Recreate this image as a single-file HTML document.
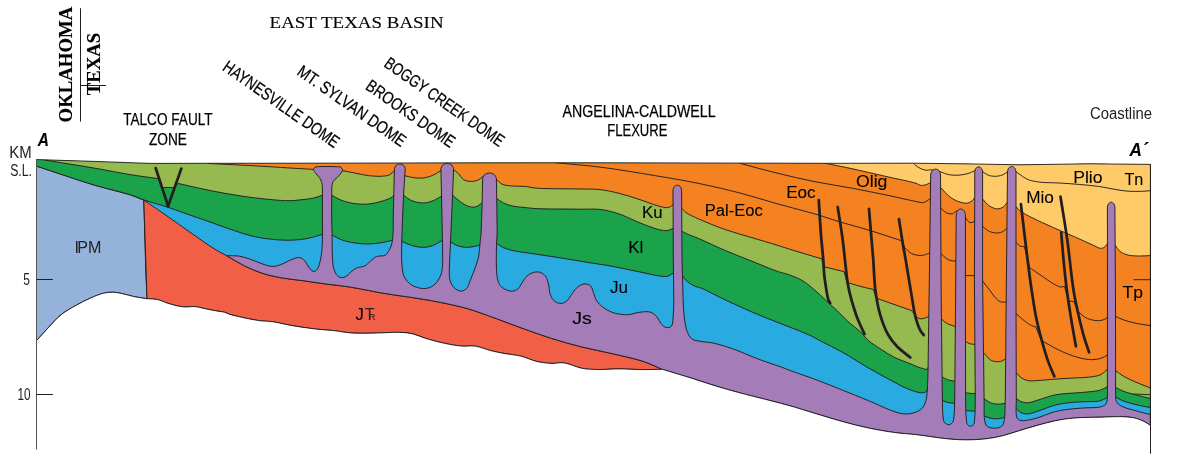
<!DOCTYPE html>
<html><head><meta charset="utf-8"><title>East Texas Basin cross-section A-A'</title>
<style>
html,body{margin:0;padding:0;background:#fff}
svg{display:block}
text.s{font-family:"Liberation Sans",Arial,Helvetica,sans-serif;fill:#000;stroke:#000;stroke-width:0.1px}
text.c{font-family:"Liberation Sans",Arial,Helvetica,sans-serif;fill:#000;stroke:#000;stroke-width:0.25px}
text.l{font-family:"Liberation Sans",Arial,Helvetica,sans-serif;fill:#222}
text.r{font-family:"Liberation Serif","Times New Roman",Times,serif;fill:#000;stroke:#000;stroke-width:0.12px}
</style></head><body>
<svg width="1188" height="459" viewBox="0 0 1188 459">
<defs><clipPath id="sec"><path d="M36.5,159.6L94.3,161.4L150,163.4L207.6,163.3L300,163.2L400,163L555,162.8L700,163L830,163.3L915,163.2L975,164L1020,164.8L1090,163.8L1150.4,164.4L1150.4,425.3C1148.1,423.9 1146,422.4 1143.5,421.2C1140.8,419.9 1137.9,418.7 1134.7,418C1131.1,417.2 1127.5,416.9 1122.9,416.7C1116.5,416.4 1107.9,417 1100,417.2C1091.6,417.4 1082,417.3 1074.1,418C1067.4,418.6 1061.7,419.5 1055.6,420.7C1049.4,421.9 1043.2,423.7 1037,425.4C1030.8,427.1 1024.4,429.1 1018.5,430.9C1013.2,432.5 1008.3,434.3 1003.2,435.6C998.3,436.8 993.4,437.8 988.5,438.5C983.6,439.2 978.7,439.5 973.8,439.7C968.9,439.9 964,439.9 959.1,439.7C954.2,439.5 949.3,439 944.4,438.5C939.5,438 934.6,437.2 929.7,436.5C924.8,435.8 920.3,435.1 915,434.5C908.8,433.8 901.8,433.5 894.6,432.5C886.4,431.4 877.1,429.8 868.4,428C859.7,426.2 851,423.9 842.3,421.5C833.5,419.1 824.8,416.3 816.1,413.7C807.4,411.1 798.1,408.1 790,405.8C783.1,403.8 777.6,402.5 770.7,400.7C762.7,398.6 753.3,396.4 744.6,394.1C735.9,391.8 727.1,389.4 718.4,386.8C709.7,384.2 701.3,381.2 692.3,378.4C682.6,375.4 672.2,372.3 662.2,369.3L662.2,369.3C655.8,369.4 649.8,369.6 643,369.6C635.4,369.6 626.5,368.9 618.6,368.9C611.2,368.9 603.7,369.7 597.2,369.5C591.7,369.4 587.2,369.3 582,368.3C576.1,367.2 569.2,363.5 563.7,362.8C559.3,362.3 555.8,363.6 551.5,363.4C546.7,363.2 541.2,362.5 536.2,361.3C531.1,360.1 526.1,357.4 521,356.1C516,354.9 510.8,354.6 505.7,353.7C500.6,352.8 495.5,351.9 490.5,350.6C485.4,349.3 480.2,346.8 475.2,346.1C470.6,345.4 466.6,346.5 461.8,346.1C456.2,345.6 449.6,344.4 443.5,343.1C437.4,341.8 430.7,339.9 425.2,338.2C420.7,336.8 417.1,334.9 413,333.9C409,333 405.6,332.6 400.8,332.4C394.1,332.1 384.5,332.9 376.4,333C368.3,333.1 359.5,333.5 352,333C345.4,332.6 339.8,331.3 333.7,330.6C327.6,329.9 321.9,329.8 315.4,329C307.8,328.1 298.5,326.7 291,325.4C284.4,324.3 278.2,322.5 272.7,321.7C268.2,321.1 264.6,321.3 260.5,320.8C256.4,320.3 252,319.4 248.3,318.7C245.1,318.1 242.3,317.4 239.3,316.7C236.2,316 232.7,315.3 230,314.4C227.9,313.7 226.5,312.8 224.4,312.2C221.7,311.5 218.4,311.3 215.2,310.7C211.7,310.1 207.6,309.2 204.1,308.5C200.9,307.8 197.9,306.7 194.8,306.5C191.7,306.3 188.5,307.1 185.6,307C183,306.9 180.8,306.6 178.1,306.1C174.7,305.4 170.5,304.1 167,303C163.8,302 161,300.3 157.8,299.6C154.4,298.8 150.6,299 147,298.7L147,298.7C142.6,298 137.9,297.4 133.7,296.5C129.8,295.7 126.2,294.4 122.6,293.7C119.4,293 116.4,292.3 113.3,292.2C110.2,292.1 107.4,292.4 104.1,293.1C100.1,294 95.5,295.9 91.1,297.8C86.3,299.9 81.2,302.5 76.3,305.2C71.3,308 66.1,310.8 61.5,314.4C56.8,318.1 52.7,323 48.5,327.4C44.4,331.8 40.5,336.3 36.5,340.7Z"/></clipPath></defs>
<g clip-path="url(#sec)">
<rect x="30" y="150" width="1130" height="300" fill="#29ABE2"/>
<path d="M36.4,166.1L94.3,185.1L130,194.7L143.8,200.1L145.7,270L147,298.7L147,298.7C142.6,298 137.9,297.4 133.7,296.5C129.8,295.7 126.2,294.4 122.6,293.7C119.4,293 116.4,292.3 113.3,292.2C110.2,292.1 107.4,292.4 104.1,293.1C100.1,294 95.5,295.9 91.1,297.8C86.3,299.9 81.2,302.5 76.3,305.2C71.3,308 66.1,310.8 61.5,314.4C56.8,318.1 52.7,323 48.5,327.4C44.4,331.8 40.5,336.3 36.5,340.7Z" fill="#95B3DA" stroke="#231F20" stroke-width="0.95"/>
<path d="M143.8,200.1C150,204.3 155.6,208.1 162.3,212.7C170.4,218.3 180.1,225.3 189,231.5C197.7,237.5 207.9,245 215,249.3C219.6,252.1 222.5,253.4 226.8,255.8C232.1,258.8 238.3,262.8 244.4,265.8C250.7,268.8 257.4,271.7 264,273.8C270.4,275.8 277,277 283.6,278.2C290.1,279.3 296.7,279.8 303.2,280.7C309.7,281.6 316.3,282.7 322.8,283.6C329.4,284.5 336.7,285.2 342.5,286C347.1,286.6 350,287 355,287.9C362.7,289.2 373.7,291.6 384.2,293.4C396.3,295.4 411.3,297.2 423.4,299.3C433.9,301.1 444.3,303.1 452.8,305C459.3,306.5 464.1,307.6 470,309.4C476.6,311.4 483,313.8 490.5,316.5C499.7,319.8 510.8,324.1 521,327.8C531.1,331.4 541.3,335.2 551.5,338.4C561.6,341.6 571.8,344.4 582,347C592.1,349.5 602.3,351.3 612.5,353.7C622.7,356.1 634.1,358.4 643,361.3C650.2,363.7 655.8,366.6 662.2,369.3L662.2,369.3C655.8,369.4 649.8,369.6 643,369.6C635.4,369.6 626.5,368.9 618.6,368.9C611.2,368.9 603.7,369.7 597.2,369.5C591.7,369.4 587.2,369.3 582,368.3C576.1,367.2 569.2,363.5 563.7,362.8C559.3,362.3 555.8,363.6 551.5,363.4C546.7,363.2 541.2,362.5 536.2,361.3C531.1,360.1 526.1,357.4 521,356.1C516,354.9 510.8,354.6 505.7,353.7C500.6,352.8 495.5,351.9 490.5,350.6C485.4,349.3 480.2,346.8 475.2,346.1C470.6,345.4 466.6,346.5 461.8,346.1C456.2,345.6 449.6,344.4 443.5,343.1C437.4,341.8 430.7,339.9 425.2,338.2C420.7,336.8 417.1,334.9 413,333.9C409,333 405.6,332.6 400.8,332.4C394.1,332.1 384.5,332.9 376.4,333C368.3,333.1 359.5,333.5 352,333C345.4,332.6 339.8,331.3 333.7,330.6C327.6,329.9 321.9,329.8 315.4,329C307.8,328.1 298.5,326.7 291,325.4C284.4,324.3 278.2,322.5 272.7,321.7C268.2,321.1 264.6,321.3 260.5,320.8C256.4,320.3 252,319.4 248.3,318.7C245.1,318.1 242.3,317.4 239.3,316.7C236.2,316 232.7,315.3 230,314.4C227.9,313.7 226.5,312.8 224.4,312.2C221.7,311.5 218.4,311.3 215.2,310.7C211.7,310.1 207.6,309.2 204.1,308.5C200.9,307.8 197.9,306.7 194.8,306.5C191.7,306.3 188.5,307.1 185.6,307C183,306.9 180.8,306.6 178.1,306.1C174.7,305.4 170.5,304.1 167,303C163.8,302 161,300.3 157.8,299.6C154.4,298.8 150.6,299 147,298.7Z" fill="#F15F46" stroke="#231F20" stroke-width="0.95" stroke-linejoin="round"/>
<path d="M20,160.7C25.5,162.5 29.3,163.8 36.4,166.1C49.8,170.5 77.3,180 94.3,185.1C107.6,189.1 120.8,191.7 130,194.7C135.9,196.6 139,198.3 144.4,200.1C151.3,202.4 160.4,204.8 168.1,207.3C175.5,209.7 182.4,212.4 189.9,215C198,217.8 207.2,221 215,223.8C221.9,226.2 228,228.6 234.6,230.7C241.1,232.8 247.6,235.1 254.2,236.6C260.7,238 267.2,238.9 273.8,239.5C280.3,240.1 287.4,240.4 293.4,240.1C298.4,239.9 302.6,239.4 307.2,238.5C312.1,237.6 317,235.9 321.9,234.6L332,235C335.2,236.6 338,238.5 341.5,239.8C345.5,241.3 350.5,242.3 355,243C359.4,243.7 363.9,244.1 368.4,244C373,243.9 378,243.2 382.2,242.5C385.9,241.9 389.1,241.1 392.5,240.4L401.9,241.5C405.2,242.8 408.2,244.4 411.7,245.4C415.4,246.4 419.7,247.5 423.4,247.4C426.8,247.3 430.1,246.5 433.2,245.4C436.3,244.2 439.1,242.1 442.1,240.5L449.9,241.5C452.2,242.8 454.2,244.4 456.8,245.4C459.7,246.5 463.5,247.3 466.6,247.4C469.3,247.5 472,246.8 474.4,246.4C476.4,246 478.1,245.5 480,245L496.5,243.3C498.8,244.7 500.7,246.4 503.3,247.6C506.2,248.9 509.4,249.7 513.1,250.6C517.7,251.7 522.8,252.2 528.8,253.1C537.1,254.4 548.4,256 558.2,257.5C568,259.1 578.5,260.9 587.6,262.4C595.6,263.7 602,264.5 610,265.9C619.3,267.6 631.2,270.2 640,272C646.8,273.4 653.1,275.1 658.2,275.8C661.8,276.3 664.8,276.9 667.4,276.3C669.6,275.8 671.3,274.1 673.2,273L682.2,275.3C683.5,277 684.4,278.9 686.1,280.5C688.2,282.4 691.3,284.5 694,285.8C696.5,287 698.6,287.1 701.8,288.4C707.6,290.8 716.8,295.9 725.3,299.9C735.2,304.5 746.9,309.9 757.6,314.4C767.9,318.7 778.9,322.8 788.2,326.5C796,329.6 803.8,332.5 809.8,335.3C814.3,337.4 817,339.1 821.4,341.4C827.3,344.5 835,348.1 842.3,352.2C850.6,356.8 859.6,362.9 868.4,367.9C877.1,372.9 887.4,378.5 894.6,382.3C899.7,385 903.2,387.1 907.6,388.8C911.9,390.5 917.2,392.6 920.7,392.7C923,392.8 925.3,392.5 926.5,391.4C927.6,390.3 927.4,387.9 927.8,386.2L942.5,400.3C944.1,401 945.6,401.9 947.4,402.4C949.5,403 952.1,402.9 954.5,403.2L965.6,410.6L975,411.2L984.1,415.9C986.6,416.8 988.9,418.1 991.5,418.5C994.3,419 997.8,418.9 1000.3,418.5C1002.2,418.2 1003.6,417.5 1005.3,417L1016.3,408.7C1017.7,409.9 1018.7,411.5 1020.4,412.4C1022.4,413.4 1025.2,414 1027.8,413.9C1030.7,413.8 1033.4,412.6 1037,411.5C1042.1,409.9 1049.3,406.6 1055.6,405C1061.7,403.5 1068.5,402.7 1074.1,402.2C1078.8,401.8 1082.7,401.9 1087,401.7C1091.3,401.5 1096.3,401.8 1100,400.9C1102.9,400.2 1104.9,398.6 1107.4,397.4L1115.6,397C1118,398.3 1120,399.6 1122.9,400.8C1126.9,402.4 1132.8,403.9 1137.6,405C1142,406.1 1145.7,406.7 1150.4,407.5C1156.2,408.4 1163.5,409.2 1170,410L1170,100L20,100Z" fill="#1AA34A" stroke="#231F20" stroke-width="0.95" stroke-linejoin="round"/>
<path d="M44.4,160C61,162.7 79.1,165.5 94.3,168.1C107.2,170.3 118.8,172.8 130,174.6C139.9,176.2 148.7,177.3 158.1,178.6L162.3,187.5L174.3,187.5L177.9,183.4C188.6,185.8 199.5,188.4 210,190.5C220.1,192.5 230,194.3 240,195.8C250,197.3 261,198.7 270,199.5C277.3,200.2 284.2,200.8 290,200.7C294.5,200.6 297.9,200.1 301.8,199.7C305.7,199.3 309.9,198.9 313.5,198.1C316.7,197.4 319.4,196.2 322.4,195.2L331.6,195.2C334.7,196.8 337.5,198.8 341,200.1C345.1,201.7 350.1,203 354.7,203.6C359.2,204.2 363.8,204.4 368.4,204C373,203.6 378,202.4 382.2,201.1C385.8,200 390.1,198.6 392,197.2C393,196.5 393.2,195.7 393.8,195L403.6,195.2C405.9,196.8 407.8,198.8 410.5,200.1C413.8,201.6 418.5,202.9 422.3,203C425.7,203.1 428.9,202.2 432.1,201.1C435.4,200 438.4,197.8 441.5,196.2L452.6,195.2C454.9,197.2 457,199.3 459.5,201.1C462,202.9 464.7,205 467.4,206C469.9,206.9 472.8,207.5 475.2,207C477.7,206.5 479.8,204.3 482.1,203L496.8,198.5C498.7,199.8 500.3,201.3 502.6,202.5C505.4,203.9 509,205.2 512.5,206C516.4,206.9 520.9,207.1 525,207.5C528.8,207.9 531.2,208.3 536.2,208.6C546.3,209.2 570.2,209.1 582,209.2C589.4,209.3 594,208.7 600,209.4C606.3,210.2 612.7,211.8 619,213.9C625.7,216.1 632.4,219.9 639,222.5C645.4,225 652.8,228.1 658.2,229.4C661.9,230.3 665.1,230.9 667.8,230.5C669.8,230.2 671.3,229 673,228.3L681.4,230.9C683,231.8 684.1,232.5 686.1,233.5C689.3,235 694.1,236.6 699.2,238.8C706.4,241.9 716.6,246.8 725.3,250.5C734,254.2 742.7,257.5 751.4,261C760.1,264.5 770.7,269.1 777.5,271.4C781.8,272.9 784.4,273.2 788.2,274.5C792.6,276.1 797.7,277.9 802,280.4C806.2,282.8 809.9,286 813.7,289.2C817.7,292.5 821.6,296.4 825.5,300C829.4,303.6 833.4,307.1 837.3,310.8C841.3,314.6 845.1,319 849,322.5C852.6,325.8 856.7,328.3 860,331.4C863.1,334.3 865.1,337.6 868.4,340.5C872.1,343.8 877.1,346.7 881.5,349.6C885.8,352.4 890.2,355.3 894.6,357.5C898.9,359.6 903.3,361 907.6,362.7C912,364.4 917,366.8 920.7,367.9C923.2,368.6 926,369.8 927.3,369.2C928.1,368.8 928.2,367.5 928.6,366.6L942,376.8C943.8,377.8 945.4,379 947.4,379.7C949.6,380.5 952.3,380.7 954.7,381.2L965.6,392.9L975.3,393.8L984.1,398.8C986.6,400.3 988.8,402.3 991.5,403.2C994.2,404.1 997.8,404.2 1000.3,404.1C1002.2,404 1003.6,403.5 1005.3,403.2L1016.3,398.5C1017.7,399.4 1018.7,400.6 1020.4,401.3C1022.4,402.2 1025.2,402.9 1027.8,402.8C1030.7,402.7 1033.4,401.4 1037,400.4C1042.1,399 1049.3,396 1055.6,394.8C1061.7,393.6 1068.5,393.5 1074.1,393C1078.8,392.6 1082.7,392.5 1087,392C1091.3,391.5 1096.3,391.3 1100,390.2C1102.9,389.4 1104.9,387.9 1107.4,386.8L1115.6,387.5C1118.4,388.8 1120.8,390.3 1124,391.5C1128.1,393 1133.9,394.3 1138.5,395.5C1142.7,396.6 1145.9,397.5 1150.4,398.3C1156.1,399.4 1163.5,400.1 1170,401L1170,100L44.4,100Z" fill="#96B950" stroke="#231F20" stroke-width="0.95" stroke-linejoin="round"/>
<path d="M207.6,163.4C223.7,164.2 240.1,165 256,165.9C271.4,166.8 291.2,168.1 301.5,168.7C306.8,169 309.5,169.2 313.5,169.4L342.5,170.7C346.6,171.5 350.5,172.2 354.7,173C359.1,173.8 363.8,175.1 368.4,175.6C373,176.1 378.3,176.5 382.2,176.2C385.2,176 387.9,175.7 390,174.6C391.8,173.7 392.9,172 394.4,170.7L404.6,175.6C407.2,176.2 409.7,177.1 412.5,177.5C415.6,178 419.1,178.4 422.3,178.1C425.6,177.8 429,176.8 432.1,175.6C435.2,174.4 438,172.3 440.9,170.7L453.6,169.7C455.2,171 456.9,172.1 458.5,173.6C460.2,175.3 461.3,178.2 463.4,179.5C465.6,180.9 468.7,181.5 471.3,181.5C473.9,181.5 477.1,180.5 479.1,179.5C480.6,178.7 481.4,177.6 482.6,176.6L496.4,179.5C498.5,181.1 500.1,183.3 502.6,184.4C505.4,185.6 509,185.7 512.5,186C516.4,186.4 521,186 525,186.4C528.8,186.8 531.2,187.7 536.2,188.1C546.3,189 570.2,188.7 582,189C589.4,189.2 593.9,188.9 600,189.6C606.3,190.3 612.6,191.7 619,193.3C625.6,194.9 632.4,197.2 639,199.3C645.5,201.4 653,204.6 658.4,206C662,206.9 665.2,208 667.8,207.6C669.8,207.3 671.3,205.9 673,205L681.4,208.2C683,209.7 684,211.1 686.1,212.6C689.3,214.8 694,216.9 699.2,219.2C706.4,222.4 716.5,226.5 725.3,229.6C733.9,232.6 742.7,234.9 751.4,237.5C760.1,240.1 770,243 777.5,245.3C783.1,247 786.4,248.2 792.2,250C800.3,252.5 811.8,255.9 821.6,258.8L823.5,266.7L844.1,271.6L847,282.4C851.3,283.7 855.6,285.1 860,286.3C864.4,287.5 868.9,288.4 873.3,289.4L876.3,298.2C882.2,300.3 888.1,302.3 894,304.4C899.9,306.5 905.7,308.5 911.6,310.6L915.5,315.9C916.6,316.8 917.6,318 918.9,318.5C920.2,319 921.7,318.9 923.3,318.6C925.3,318.2 927.6,316.9 929.7,316L942,319.4C943.8,320.9 945.3,322.7 947.4,323.8C949.6,325 952.3,325.4 954.7,326.2L965.6,341.5C967.1,342.3 968.4,343.3 970,343.8C971.6,344.3 973.5,344.2 975.3,344.4L984.1,353.2C986.6,355.7 988.7,359.2 991.5,360.6C994.1,361.8 997.8,361.9 1000.3,361.5C1002.3,361.2 1003.6,359.9 1005.3,359.1L1016.3,372.6C1017.7,374.1 1018.7,375.9 1020.4,377.2C1022.4,378.7 1025.1,380 1027.8,380.6C1030.6,381.2 1033.4,380.7 1037,380.6C1042.1,380.4 1049.4,379.5 1055.6,379.1C1061.8,378.7 1068.5,378.3 1074.1,378C1078.8,377.7 1082.7,377.8 1087,377.3C1091.3,376.8 1096.4,376.5 1100,375C1103,373.7 1104.9,371.3 1107.4,369.5L1115.5,370.5C1118.3,372.5 1120.7,374.6 1124,376.5C1128,378.8 1133.4,381.1 1138,383C1142.2,384.8 1145.8,386.2 1150.4,387.8C1156.2,389.8 1163.5,391.9 1170,394L1170,100L207.6,100Z" fill="#F58220" stroke="#231F20" stroke-width="0.95" stroke-linejoin="round"/>
<path d="M555.4,162.7C570.3,164.2 584.4,165.1 600,167.1C617.5,169.3 637.9,172.8 655.4,175.7C671.1,178.3 685.6,180.7 700,183.7C713.7,186.5 727,189.6 740,193C752.6,196.3 764.4,200.2 777,203.7C790.3,207.4 806.6,211.5 817.8,214.8C825.7,217.2 830.5,219 838,221.3C847.5,224.2 859.7,227.3 870.4,230.6C881,233.8 891.3,237.4 901.8,240.8L904.7,247.6C907,249.6 908.9,252.2 911.6,253.5C914.4,254.9 918.3,255.6 921.4,255.5C924.3,255.4 926.9,253.8 929.7,253L941.1,253.6C942.9,255.2 944.5,257.3 946.4,258.5C948.2,259.7 950.6,260.6 952.3,260.9C953.5,261.1 954.5,260.9 955.6,260.9L965.4,275.6L974.4,275.6L982.6,281.1C984.9,284 987.3,287 989.5,289.9C991.6,292.6 993.4,295.6 995.4,297.7C997,299.4 998.5,301 1000.3,301.7C1002.1,302.4 1004.2,302 1006.2,302.1L1016,313.7C1018.8,316.1 1021.6,318.7 1024.4,320.8C1026.8,322.6 1029.4,324.6 1031.6,325.6C1033.2,326.4 1034.5,326.5 1035.9,327L1041.2,340.3C1046.8,343.4 1052,346.8 1057.9,349.6C1064,352.5 1071.1,355.5 1077.1,357.2C1082.2,358.6 1087.2,359.6 1091.5,359.7C1095,359.7 1098.3,359.2 1101.1,358.3C1103.5,357.5 1105.4,356.1 1107.6,355" fill="none" stroke="#231F20" stroke-width="0.95" stroke-linecap="butt" stroke-linejoin="round"/>
<path d="M740,163.3C752.3,166.6 764.6,170.1 777,173.1C789.3,176.1 801.6,179 814,181.5C826.3,184 838.7,185.7 851,188C863.3,190.3 876.5,193 888,195.4C898,197.5 909.7,200.3 916,201.5C919.2,202.1 920.9,203 923.3,202.6C925.8,202.2 928.1,199.9 930.5,198.6L940.5,207.9C942.5,209.5 944.3,211.8 946.4,212.8C948.3,213.7 950.6,214.2 952.3,213.8C953.8,213.4 954.9,211.9 956.2,210.9L965.4,217.7C966.9,219.3 968.3,222.1 969.9,222.6C971.1,223 973,222.3 973.8,221.7C974.4,221.2 974.5,220.4 974.8,219.7L982.6,226.6C984.9,228.2 987,230.4 989.5,231.5C991.9,232.5 995,233.1 997.4,233C999.5,232.9 1001.5,232.4 1003.2,231.5C1004.9,230.6 1006.1,228.8 1007.5,227.5L1016,242.5C1017.6,243.8 1019.3,245.8 1020.9,246.4C1022.1,246.9 1023.2,246.5 1024.4,246.6L1029.7,267.7C1033.5,270.3 1037.1,272.8 1041,275.4C1045.1,278.1 1049.8,281.8 1053.5,283.8C1056.2,285.3 1059,286.8 1061,287C1062.3,287.1 1063.3,286.5 1064.4,286.3L1068.6,300.8L1073.8,301.7L1078.3,311.5C1080.2,313.2 1081.9,315.3 1084,316.7C1086.1,318.1 1088.6,319 1091,319.7C1093.5,320.4 1096.4,320.8 1098.7,320.7C1100.6,320.6 1102.4,320.2 1104,319.6C1105.4,319.1 1106.4,318.1 1107.6,317.4L1115.5,316.4C1118.3,317.6 1120.7,318.9 1123.9,320C1127.9,321.4 1133.1,322.7 1137.6,323.6C1141.9,324.5 1146.1,324.9 1150.4,325.6" fill="none" stroke="#231F20" stroke-width="0.95" stroke-linecap="butt" stroke-linejoin="round"/>
<path d="M1133.7,279.7L1150.4,279.7" fill="none" stroke="#231F20" stroke-width="0.95" stroke-linecap="butt" stroke-linejoin="round"/>
<path d="M825.2,163.3C833.8,165 841.6,166.5 851,168.5C862.2,170.9 876.5,174.3 888,176.9C898,179.2 910.5,181.5 916,183.3C918.4,184.1 919.2,185.2 920.9,185.4C922.7,185.6 925.1,185 926.8,184.4C928.3,183.9 929.4,183.1 930.7,182.5L940.5,187.4C943.8,190.7 946.8,194.7 950.3,197.2C953.4,199.4 956.9,201.2 960.1,202.1C962.8,202.9 965.6,203.6 967.9,203C970.1,202.5 972.7,200.3 973.8,199.1C974.4,198.4 974.5,197.8 974.8,197.2L982.6,199.1C984.9,201.4 986.9,204.4 989.5,206C991.9,207.5 995,208.9 997.4,208.9C999.5,208.9 1001.5,208.1 1003.2,207C1004.9,205.9 1006.1,203.7 1007.5,202.1L1016,206.5C1017.3,208 1018.2,209.4 1020,210.9C1022.8,213.1 1027.2,215.2 1031.8,217.6C1037.9,220.7 1046.3,224.4 1053.6,227.7C1060.8,231 1068.5,234.2 1075.4,237.2C1081.5,239.9 1088.2,243 1092.8,245C1095.8,246.3 1098.2,248.2 1100.4,248.3C1102,248.4 1103.6,247.8 1104.8,247C1105.9,246.2 1106.5,244.7 1107.4,243.5L1115.3,245.4C1116.9,247.4 1118,249.8 1120,251.4C1122.1,253.1 1124.9,254.2 1127.8,255C1131.3,255.9 1135.8,255.9 1139.6,256C1143.3,256.1 1146.3,255.7 1150.4,255.6C1156,255.4 1163.5,255.2 1170,255L1170,100L825.2,100Z" fill="#FFCB69" stroke="#231F20" stroke-width="0.95" stroke-linejoin="round"/>
<path d="M913.5,163.3C914.3,164.1 915,164.8 916,165.6C917.3,166.6 919.1,167.9 920.9,168.7C922.7,169.5 925,170.2 926.8,170.3C928.2,170.4 929.4,169.9 930.7,169.7L940.5,171.7C943.1,172.7 945.5,174 948.3,174.6C951.3,175.2 954.8,175.4 958.1,175.2C961.4,175 965,174.4 967.9,173.6C970.4,172.9 972.5,171.7 974.8,170.7L982.6,171.7C984.9,173 987,174.9 989.5,175.6C992,176.3 995,176.4 997.4,176.2C999.5,176 1001.5,175.4 1003.2,174.6C1004.8,173.9 1006.1,172.7 1007.5,171.7L1016,171.7C1017.3,172.7 1018.4,173.5 1020,174.6C1022.2,176.1 1024.8,178.3 1027.8,179.5C1031.2,180.9 1035.1,181.5 1039.6,182.1C1045.3,182.9 1052.7,182.6 1059.2,183C1065.7,183.4 1072.3,183.8 1078.8,184.4C1085.3,185 1091.9,185.5 1098.4,186.4C1105,187.3 1112.3,189.1 1118,189.9C1122.4,190.6 1125.9,191.1 1129.8,191.3C1133.7,191.5 1138,191.4 1141.6,191.3C1144.8,191.2 1147.5,190.9 1150.4,190.7" fill="none" stroke="#231F20" stroke-width="0.95" stroke-linecap="butt" stroke-linejoin="round"/>
<path d="M1133,394L1150.4,394.7" fill="none" stroke="#231F20" stroke-width="0.95" stroke-linecap="butt" stroke-linejoin="round"/>
<path d="M226.8,255.8C230.7,255.9 234.6,255.5 238.5,256C242.5,256.6 246.4,257.9 250.3,259.2C254.3,260.5 258.3,262.6 262.1,263.8C265.5,264.9 268.8,266.3 271.9,266.4C274.6,266.5 277,265.8 279.7,265C282.8,264 286.4,261.8 289.5,260.5C292.2,259.4 295.1,257.9 297.4,257.7C299.2,257.5 300.9,257.7 302.3,258.5C303.9,259.4 305,261.4 306.2,263C307.6,264.8 308.6,267.4 310.1,268.9C311.3,270.1 312.8,271.5 314,271.5C315.2,271.5 316.5,270.1 317.4,268.9C318.6,267.3 319.2,264.7 319.9,262.1C320.8,258.7 321.5,254.5 321.9,250.3C322.4,245.5 322.4,240.1 322.5,234.6C322.6,228.4 322.4,221.5 322.4,215L322.4,188.3C322.2,186.4 322.3,184.3 321.8,182.5C321.3,180.7 320.4,179.1 319.4,177.5C318.3,175.8 316.2,174.1 315.2,172.6C314.4,171.5 313.5,170.6 313.5,169.7C313.5,168.9 314.2,167.8 315,167.3C316.1,166.6 318.1,166.7 320,166.6C322.3,166.4 325.3,166.5 328,166.5C330.7,166.5 333.6,166.5 336,166.7C337.9,166.8 339.9,166.5 341,167.3C341.9,167.9 342.5,169.2 342.5,170.2C342.5,171.1 341.9,172 341.2,173C340.3,174.4 338.5,176.1 337.1,177.5C335.8,178.9 334,180 333.1,181.5C332.3,183 332.2,184.8 331.8,186.4L331.6,215C331.8,221.5 332,228.1 332.1,234.6C332.2,241.1 332,248.3 332.3,254.2C332.6,259.2 332.5,264 333.6,267.9C334.5,271 335.7,274.2 337.5,275.8C338.9,277.1 340.8,277.8 342.5,277.7C344.4,277.6 346.8,275.9 348.3,274.8C349.4,273.9 349.8,272.9 350.9,271.9C352.4,270.6 354.6,268.9 356.8,267.9C359.1,266.9 362.3,267.2 364.6,266C366.9,264.9 368.5,262.7 370.5,261.1C372.5,259.5 374.1,257.6 376.4,256.6C378.9,255.5 383,256.5 385.2,255.2C387,254.1 388,252.2 389.1,250.3C390.4,248.1 391.5,245.2 392.1,242.5C392.7,239.9 392.8,237.8 393,234.6C393.3,229.5 393.2,221.5 393.3,215L393.8,194L394.4,168.7C394.9,167.7 395,166.4 395.8,165.6C396.7,164.7 398.5,163.9 399.8,163.9C401.1,163.9 402.9,164.7 403.8,165.6C404.6,166.4 404.7,167.7 405.2,168.7L403.6,194L402.3,224C402.1,231 401.8,238.2 401.7,245C401.6,251.5 401.4,258.4 401.9,264C402.3,268.4 402.4,272.4 403.8,275.8C405.1,278.9 407.3,281.6 409.7,283.6C411.9,285.5 414.8,286.7 417.5,287.5C420.1,288.3 422.8,288.8 425.4,288.5C428,288.2 431,287.2 433.2,285.6C435.5,284 437.6,281.3 439.1,278.7C440.6,276.1 441.5,273.3 442.1,269.9C442.9,265.5 442.6,259.8 442.6,254.2C442.7,247.7 442.4,240.1 442.3,233L441.5,194L440.9,168.7C441.5,167.5 441.6,166.1 442.6,165.2C443.6,164.2 445.7,163.3 447.2,163.3C448.8,163.3 450.9,164.2 451.9,165.2C452.9,166.1 453,167.5 453.6,168.7L452.6,194L451.3,224C451,231 450.7,238.2 450.4,245C450.1,251.5 449.6,258 449.5,264C449.4,269.5 448.8,275.5 449.9,279.7C450.7,282.9 451.9,285.6 453.8,287.5C455.6,289.3 458.5,291 460.7,291.1C462.7,291.2 465,290.1 466.6,288.5C468.5,286.6 469.2,282.7 470.5,279.7C471.8,276.5 473.1,273.3 474.4,269.9C475.8,266.2 477.3,262.5 478.3,258.1C479.4,252.9 479.8,245.1 480.3,240.5C480.6,237.5 480.8,235.5 481.1,233L482.1,204L482.6,178.5C483.2,177.3 483.4,175.8 484.4,174.9C485.6,173.9 487.8,173 489.5,173C491.2,173 493.4,173.9 494.6,174.9C495.6,175.8 495.8,177.3 496.4,178.5L496.8,204L497.2,233C497,237.2 496.6,240.8 496.5,245.7C496.3,252.3 496.2,263.1 496.5,269.2C496.7,273.2 496.8,276.1 497.5,279C498.2,281.6 498.9,284.1 500.4,285.9C501.9,287.7 504.3,288.9 506.3,289.8C508.2,290.6 510.3,291.4 512.2,291.2C514.2,291 516.4,290.1 518,288.8C519.7,287.4 520.6,284.9 522,282.9C523.5,280.7 525,277.8 526.9,276.1C528.6,274.5 530.6,273.4 532.7,272.7C534.8,272 537.5,271.6 539.6,272.2C541.7,272.8 544,274.3 545.5,276.1C547.1,278.1 547.6,281.1 548.4,283.9C549.3,287.2 549.2,291.7 550.4,294.7C551.4,297.2 552.5,299.5 554.3,301C556.1,302.5 559,303.6 561.2,303.5C563.3,303.4 565.4,302.1 567.1,300.6C569.1,298.9 570.2,296 572,293.7C573.8,291.4 575.6,288.6 577.8,286.9C579.8,285.4 582.5,284 584.7,283.9C586.7,283.8 589.1,284.6 590.6,285.9C592.2,287.4 592.5,290.3 593.5,292.7C594.5,295.2 595,298.2 596.5,300.6C598.1,303.2 600.9,305.6 603.3,307.5C605.4,309.2 607.8,310.4 610,311.4C611.9,312.3 613.3,312.9 615.6,313.4C618.8,314.1 623.7,314.9 627.7,314.7C631.8,314.5 636,312.6 640,312.2C643.6,311.8 647.5,311.2 650.5,312.2C653.1,313.1 655.3,315.1 657,317C658.7,318.9 659.3,321.7 660.9,323.5C662.4,325.2 664.3,327.1 666.1,327.5C667.8,327.8 670.2,327.4 671.4,326.1C673.1,324.3 672.8,319.5 673.2,315.7C673.7,311 673.6,305.2 673.8,300L673.3,260L673,190C673.4,189 673.4,187.7 674.1,186.9C674.8,186.1 676.2,185.2 677.3,185.2C678.4,185.2 679.8,186.1 680.5,186.9C681.2,187.7 681.2,189 681.6,190L682,260L683.1,300C683.5,306.1 683.6,312.7 684.4,318.3C685.1,323.1 685.6,327.7 687.1,331.4C688.4,334.5 690,337.6 692.3,339.2C694.4,340.7 697.1,340.7 700.1,341.3C703.9,342.1 708.5,342.1 713.2,343.1C718.8,344.3 724.9,346.1 731.5,348.4C739.5,351.1 748.9,355.5 757.6,358.8C766.3,362.1 778.1,365.9 783.8,368C786.6,369.1 787.2,369.4 790,370.5C795.7,372.6 807.4,376.5 816.1,379.7C824.9,383 833.6,386.6 842.3,390.1C851,393.6 860.2,397.2 868.4,400.6C875.8,403.7 883.1,407.4 889.3,409.7C894.1,411.5 898.2,413.2 902.4,413.7C906.1,414.1 909.6,414 912.9,413.1C916.1,412.2 919.8,410.6 922,408.4C924,406.4 925,403.5 925.9,400.6C926.9,397.4 927,394.1 927.3,390.1C927.7,384.9 927.8,378 928,372L929.7,253L930.7,174C931.1,172.9 931.2,171.6 932,170.8C932.8,169.9 934.4,169.1 935.6,169.1C936.8,169.1 938.4,169.9 939.2,170.8C940,171.6 940.1,172.9 940.5,174L941.2,300L942.4,400C942.6,405 942.4,410.9 942.9,415C943.2,417.9 943.2,420.8 944.4,422.4C945.4,423.7 947.4,424.7 948.8,424.7C950.1,424.7 951.7,423.7 952.6,422.4C953.8,420.8 953.7,417.9 954.1,415C954.6,410.9 954.5,405 954.7,400L955.6,300L956.2,214.5C956.6,213.3 956.6,211.8 957.4,210.9C958.2,209.9 959.7,208.9 960.8,208.9C961.9,208.9 963.4,209.9 964.2,210.9C965,211.8 965,213.3 965.4,214.5L965.4,300L965.6,400C965.8,406 965.7,413.5 966.2,418C966.5,420.7 966.5,423.1 967.5,424.5C968.2,425.5 969.5,426.2 970.5,426.2C971.5,426.2 972.8,425.5 973.5,424.5C974.5,423.1 974.4,420.7 974.7,418C975.2,413.5 975.1,406 975.3,400L974.4,280L974.8,171.5C975.1,170.5 975.2,169.2 975.8,168.4C976.5,167.7 977.7,166.8 978.7,166.8C979.7,166.8 980.9,167.7 981.6,168.4C982.2,169.2 982.3,170.5 982.6,171.5L982.6,280L984.1,400C984.3,407 983.7,416.3 984.7,420.9C985.2,423.3 985.6,425 987,426.2C988.6,427.6 991.9,428.2 994.4,428.2C996.9,428.2 1000.2,427.6 1001.8,426.2C1003.2,425 1003.5,423.3 1004.1,420.9C1005.2,416.3 1004.9,407 1005.3,400L1006.2,300L1007.5,171.5C1007.9,170.4 1007.9,169 1008.6,168.2C1009.3,167.3 1010.7,166.4 1011.8,166.4C1012.8,166.4 1014.2,167.3 1014.9,168.2C1015.6,169 1015.6,170.4 1016,171.5L1016,300L1016.3,400C1016.3,404.8 1015.8,410.9 1016.3,414.3C1016.6,416.3 1016.6,417.8 1017.6,418.9C1018.6,420 1020.5,420.5 1022.2,420.7C1024.3,421 1027.1,420.2 1029.6,419.8C1032.1,419.3 1034,418.9 1037,418C1041.8,416.6 1049.3,413.1 1055.6,411.5C1061.7,410 1068.5,409.3 1074.1,408.7C1078.8,408.2 1082.7,408.1 1087,407.8C1091.3,407.5 1096.6,407.9 1100,407C1102.5,406.3 1104.8,405.6 1106,404C1107.2,402.4 1106.9,399.6 1107.4,397.4L1107.5,300L1107.4,207C1107.7,206 1107.7,204.7 1108.4,203.9C1109,203.1 1110.2,202.2 1111.2,202.2C1112.1,202.2 1113.3,203.1 1113.9,203.9C1114.6,204.7 1114.6,206 1114.9,207L1115.5,300L1115.6,397.9C1116.1,399.5 1116.1,401.3 1117.1,402.7C1118.3,404.4 1120.4,405.6 1122.9,406.8C1126.6,408.6 1132.9,409.9 1137.6,411.2C1142,412.4 1146.1,413.5 1150.4,414.6L1150.4,425.3C1148.1,423.9 1146,422.4 1143.5,421.2C1140.8,419.9 1137.9,418.7 1134.7,418C1131.1,417.2 1127.5,416.9 1122.9,416.7C1116.5,416.4 1107.9,417 1100,417.2C1091.6,417.4 1082,417.3 1074.1,418C1067.4,418.6 1061.7,419.5 1055.6,420.7C1049.4,421.9 1043.2,423.7 1037,425.4C1030.8,427.1 1024.4,429.1 1018.5,430.9C1013.2,432.5 1008.3,434.3 1003.2,435.6C998.3,436.8 993.4,437.8 988.5,438.5C983.6,439.2 978.7,439.5 973.8,439.7C968.9,439.9 964,439.9 959.1,439.7C954.2,439.5 949.3,439 944.4,438.5C939.5,438 934.6,437.2 929.7,436.5C924.8,435.8 920.3,435.1 915,434.5C908.8,433.8 901.8,433.5 894.6,432.5C886.4,431.4 877.1,429.8 868.4,428C859.7,426.2 851,423.9 842.3,421.5C833.5,419.1 824.8,416.3 816.1,413.7C807.4,411.1 798.1,408.1 790,405.8C783.1,403.8 777.6,402.5 770.7,400.7C762.7,398.6 753.3,396.4 744.6,394.1C735.9,391.8 727.1,389.4 718.4,386.8C709.7,384.2 701.3,381.2 692.3,378.4C682.6,375.4 672.2,372.3 662.2,369.3L662.2,369.3C655.8,366.6 650.2,363.7 643,361.3C634.1,358.4 622.7,356.1 612.5,353.7C602.3,351.3 592.1,349.5 582,347C571.8,344.4 561.6,341.6 551.5,338.4C541.3,335.2 531.1,331.4 521,327.8C510.8,324.1 499.7,319.8 490.5,316.5C483,313.8 476.6,311.4 470,309.4C464.1,307.6 459.3,306.5 452.8,305C444.3,303.1 433.9,301.1 423.4,299.3C411.3,297.2 396.3,295.4 384.2,293.4C373.7,291.6 362.7,289.2 355,287.9C350,287 347.1,286.6 342.5,286C336.7,285.2 329.4,284.5 322.8,283.6C316.3,282.7 309.7,281.6 303.2,280.7C296.7,279.8 290.1,279.3 283.6,278.2C277,277 270.4,275.8 264,273.8C257.4,271.7 250.7,268.8 244.4,265.8C238.3,262.8 232.7,259.1 226.8,255.8Z" fill="#A37CB8" stroke="#231F20" stroke-width="0.95" stroke-linejoin="round"/>
</g>
<path d="M818.8,200.2C819.5,211.8 820.2,224.4 821,235C821.7,244 822.7,252.6 823.3,260C823.8,265.8 823.8,270.7 824.3,275.7C824.8,280.4 825.6,285.2 826.3,289.4C826.9,292.9 827.3,296.7 828.2,299.2C828.8,300.8 829.5,301.8 830.2,303.1" fill="none" stroke="#231F20" stroke-width="2.75" stroke-linecap="round" stroke-linejoin="round"/>
<path d="M837.7,207C839.4,218 841.4,229.8 842.7,240C843.9,248.9 844.6,257.1 845.5,265C846.3,272 846.9,278.8 848,285C849,290.4 850,294.8 851.5,300C853.2,305.9 855.3,312.9 857.6,318.8C859.7,324.2 862.2,329 864.5,334.1" fill="none" stroke="#231F20" stroke-width="2.75" stroke-linecap="round" stroke-linejoin="round"/>
<path d="M869,209C870,221 871.2,235.6 872,245C872.5,251.1 872.8,254.2 873.3,260C873.9,268.2 874.1,280 875.3,289.4C876.4,298.2 877.9,307.1 880.2,314.9C882.3,322 884.9,329 888,334.5C890.6,339.1 893.4,342.6 896.9,346.3C900.7,350.3 905.8,353.8 910.3,357.5" fill="none" stroke="#231F20" stroke-width="2.75" stroke-linecap="round" stroke-linejoin="round"/>
<path d="M899,219.2C900.3,227.8 901.8,237.6 903,245C904,250.7 904.7,254.2 905.7,260C907.1,268.2 908.9,279.8 910.6,289.4C912.2,298.7 913.5,309.4 915.5,316.9C916.9,322.3 918.7,327.4 920.4,330.6C921.5,332.6 922.6,333.6 923.7,335.1" fill="none" stroke="#231F20" stroke-width="2.75" stroke-linecap="round" stroke-linejoin="round"/>
<path d="M1020.9,204.2C1022.7,219.3 1024.5,234.8 1026.3,249.5C1028,263.4 1029.8,277.7 1031.6,290C1033.2,300.4 1034.5,309.7 1036.4,318.8C1038.1,327.2 1040.3,335.2 1042.4,342.7C1044.3,349.5 1046.2,356 1048.3,361.9C1050.2,367.1 1052.3,371.5 1054.3,376.3" fill="none" stroke="#231F20" stroke-width="2.75" stroke-linecap="round" stroke-linejoin="round"/>
<path d="M1060.5,196.7C1062.7,210.7 1065,223.9 1067.1,238.6C1069.4,254.8 1071.3,276.1 1073.5,290C1075,299.5 1076.5,306 1078.3,314C1080.1,322 1082.3,331 1084.3,337.9C1085.9,343.3 1087.5,347.5 1089.1,352.3" fill="none" stroke="#231F20" stroke-width="2.75" stroke-linecap="round" stroke-linejoin="round"/>
<path d="M1061.2,232.5C1062.1,243.2 1063,254.6 1064,264.7C1064.9,273.6 1065.7,281.3 1066.8,290C1068,299.3 1069.6,309.3 1071.1,318.8C1072.6,328.1 1074.3,337.1 1075.9,346.3" fill="none" stroke="#231F20" stroke-width="2.75" stroke-linecap="round" stroke-linejoin="round"/>
<path d="M155.7,168.1L168.1,206.1" fill="none" stroke="#231F20" stroke-width="2.75" stroke-linecap="round" stroke-linejoin="round"/>
<path d="M181.3,168.6L168.1,206.1" fill="none" stroke="#231F20" stroke-width="2.75" stroke-linecap="round" stroke-linejoin="round"/>
<path d="M36.5,159.6L94.3,161.4L150,163.4L207.6,163.3L300,163.2L400,163L555,162.8L700,163L830,163.3L915,163.2L975,164L1020,164.8L1090,163.8L1150.4,164.4L1150.4,425.3C1148.1,423.9 1146,422.4 1143.5,421.2C1140.8,419.9 1137.9,418.7 1134.7,418C1131.1,417.2 1127.5,416.9 1122.9,416.7C1116.5,416.4 1107.9,417 1100,417.2C1091.6,417.4 1082,417.3 1074.1,418C1067.4,418.6 1061.7,419.5 1055.6,420.7C1049.4,421.9 1043.2,423.7 1037,425.4C1030.8,427.1 1024.4,429.1 1018.5,430.9C1013.2,432.5 1008.3,434.3 1003.2,435.6C998.3,436.8 993.4,437.8 988.5,438.5C983.6,439.2 978.7,439.5 973.8,439.7C968.9,439.9 964,439.9 959.1,439.7C954.2,439.5 949.3,439 944.4,438.5C939.5,438 934.6,437.2 929.7,436.5C924.8,435.8 920.3,435.1 915,434.5C908.8,433.8 901.8,433.5 894.6,432.5C886.4,431.4 877.1,429.8 868.4,428C859.7,426.2 851,423.9 842.3,421.5C833.5,419.1 824.8,416.3 816.1,413.7C807.4,411.1 798.1,408.1 790,405.8C783.1,403.8 777.6,402.5 770.7,400.7C762.7,398.6 753.3,396.4 744.6,394.1C735.9,391.8 727.1,389.4 718.4,386.8C709.7,384.2 701.3,381.2 692.3,378.4C682.6,375.4 672.2,372.3 662.2,369.3L662.2,369.3C655.8,369.4 649.8,369.6 643,369.6C635.4,369.6 626.5,368.9 618.6,368.9C611.2,368.9 603.7,369.7 597.2,369.5C591.7,369.4 587.2,369.3 582,368.3C576.1,367.2 569.2,363.5 563.7,362.8C559.3,362.3 555.8,363.6 551.5,363.4C546.7,363.2 541.2,362.5 536.2,361.3C531.1,360.1 526.1,357.4 521,356.1C516,354.9 510.8,354.6 505.7,353.7C500.6,352.8 495.5,351.9 490.5,350.6C485.4,349.3 480.2,346.8 475.2,346.1C470.6,345.4 466.6,346.5 461.8,346.1C456.2,345.6 449.6,344.4 443.5,343.1C437.4,341.8 430.7,339.9 425.2,338.2C420.7,336.8 417.1,334.9 413,333.9C409,333 405.6,332.6 400.8,332.4C394.1,332.1 384.5,332.9 376.4,333C368.3,333.1 359.5,333.5 352,333C345.4,332.6 339.8,331.3 333.7,330.6C327.6,329.9 321.9,329.8 315.4,329C307.8,328.1 298.5,326.7 291,325.4C284.4,324.3 278.2,322.5 272.7,321.7C268.2,321.1 264.6,321.3 260.5,320.8C256.4,320.3 252,319.4 248.3,318.7C245.1,318.1 242.3,317.4 239.3,316.7C236.2,316 232.7,315.3 230,314.4C227.9,313.7 226.5,312.8 224.4,312.2C221.7,311.5 218.4,311.3 215.2,310.7C211.7,310.1 207.6,309.2 204.1,308.5C200.9,307.8 197.9,306.7 194.8,306.5C191.7,306.3 188.5,307.1 185.6,307C183,306.9 180.8,306.6 178.1,306.1C174.7,305.4 170.5,304.1 167,303C163.8,302 161,300.3 157.8,299.6C154.4,298.8 150.6,299 147,298.7L147,298.7C142.6,298 137.9,297.4 133.7,296.5C129.8,295.7 126.2,294.4 122.6,293.7C119.4,293 116.4,292.3 113.3,292.2C110.2,292.1 107.4,292.4 104.1,293.1C100.1,294 95.5,295.9 91.1,297.8C86.3,299.9 81.2,302.5 76.3,305.2C71.3,308 66.1,310.8 61.5,314.4C56.8,318.1 52.7,323 48.5,327.4C44.4,331.8 40.5,336.3 36.5,340.7Z" fill="none" stroke="#231F20" stroke-width="0.9"/>
<path d="M36.5,159.6V449.5" fill="none" stroke="#555" stroke-width="1"/><path d="M1150.5,164.4V453.7M36.5,279.5H52.9M36.5,394.5H52.9M80.5,8.2V121.6M80.5,85.5H106" fill="none" stroke="#231F20" stroke-width="1"/>
<g id="labels" opacity="0.999">
<text id="km" class="l" x="9.2" y="158" font-size="16" textLength="22.4" lengthAdjust="spacingAndGlyphs" >KM</text>
<text id="sl" class="l" x="10.2" y="175.6" font-size="16" textLength="21.7" lengthAdjust="spacingAndGlyphs" >S.L.</text>
<text id="n5" class="l" x="23.2" y="284.8" font-size="17.3" textLength="6.7" lengthAdjust="spacingAndGlyphs" >5</text>
<text id="n10" class="l" x="17.4" y="399.9" font-size="17.3" textLength="13.1" lengthAdjust="spacingAndGlyphs" >10</text>
<text id="a" class="s" x="37.8" y="146" font-size="18" textLength="11.2" lengthAdjust="spacingAndGlyphs" font-weight="bold" font-style="italic" stroke-width="0.5">A</text>
<text id="a2" class="s" x="1129.6" y="155.8" font-size="18" textLength="18.1" lengthAdjust="spacingAndGlyphs" font-weight="bold" font-style="italic" stroke-width="0.5">A´</text>
<text id="ok" class="r" transform="translate(71.8,122.4) rotate(-90)" font-size="18" textLength="115.6" lengthAdjust="spacingAndGlyphs" font-weight="bold">OKLAHOMA</text>
<text id="tx" class="r" transform="translate(100,95.2) rotate(-90)" font-size="18" textLength="62.3" lengthAdjust="spacingAndGlyphs" font-weight="bold">TEXAS</text>
<text id="talco" class="c" x="123.2" y="125.3" font-size="16.5" textLength="89.4" lengthAdjust="spacingAndGlyphs" >TALCO FAULT</text>
<text id="zone" class="c" x="149" y="144.6" font-size="16.5" textLength="38" lengthAdjust="spacingAndGlyphs" >ZONE</text>
<text id="etb" class="r" x="269.6" y="27.5" font-size="17.6" textLength="174" lengthAdjust="spacingAndGlyphs" >EAST TEXAS BASIN</text>
<text id="hay" class="c" transform="translate(221.6,69.5) rotate(35)" font-size="17.2" textLength="137.6" lengthAdjust="spacingAndGlyphs" >HAYNESVILLE DOME</text>
<text id="mts" class="c" transform="translate(296.1,74) rotate(35)" font-size="17.2" textLength="128.1" lengthAdjust="spacingAndGlyphs" >MT. SYLVAN DOME</text>
<text id="brk" class="c" transform="translate(364.6,88.5) rotate(35)" font-size="17.2" textLength="104.3" lengthAdjust="spacingAndGlyphs" >BROOKS DOME</text>
<text id="bog" class="c" transform="translate(383,65.9) rotate(35)" font-size="17.2" textLength="141.8" lengthAdjust="spacingAndGlyphs" >BOGGY CREEK DOME</text>
<text id="ang" class="c" x="562.6" y="116.6" font-size="16" textLength="153" lengthAdjust="spacingAndGlyphs" >ANGELINA-CALDWELL</text>
<text id="flex" class="c" x="607.2" y="136.4" font-size="16" textLength="60.2" lengthAdjust="spacingAndGlyphs" >FLEXURE</text>
<text id="coast" class="l" x="1090" y="119.4" font-size="16" textLength="62" lengthAdjust="spacingAndGlyphs" >Coastline</text>
<text id="pm" class="l" x="74.6" y="252.8" font-size="16.5" textLength="26.8" lengthAdjust="spacingAndGlyphs" >I<tspan dx="-1.9">PM</tspan></text>
<text id="jtr" class="s" x="355.6" y="319.9" font-size="16.5" >J<tspan stroke="none" fill="#222" dx="0.9" font-size="16">T</tspan><tspan stroke="none" fill="#222" font-size="9.8" dx="-6">R</tspan></text>
<text id="js" class="s" x="572.2" y="324" font-size="16" textLength="19.6" lengthAdjust="spacingAndGlyphs" >Js</text>
<text id="ju" class="s" x="610" y="292.8" font-size="16" textLength="18.1" lengthAdjust="spacingAndGlyphs" >Ju</text>
<text id="kl" class="s" x="628.2" y="253" font-size="16" textLength="15.1" lengthAdjust="spacingAndGlyphs" >Kl</text>
<text id="ku" class="s" x="642" y="218.4" font-size="16" textLength="20.5" lengthAdjust="spacingAndGlyphs" >Ku</text>
<text id="pal" class="s" x="704.8" y="216" font-size="16" textLength="58" lengthAdjust="spacingAndGlyphs" >Pal-Eoc</text>
<text id="eoc" class="s" x="786.2" y="198.2" font-size="16" textLength="29.5" lengthAdjust="spacingAndGlyphs" >Eoc</text>
<text id="olig" class="s" x="856" y="186.5" font-size="16" textLength="31.4" lengthAdjust="spacingAndGlyphs" >Olig</text>
<text id="mio" class="s" x="1026.2" y="203.4" font-size="16" textLength="27.7" lengthAdjust="spacingAndGlyphs" >Mio</text>
<text id="plio" class="s" x="1073.2" y="183.2" font-size="16" textLength="29.3" lengthAdjust="spacingAndGlyphs" >Plio</text>
<text id="tn" class="s" x="1124.4" y="184.8" font-size="16" textLength="18.9" lengthAdjust="spacingAndGlyphs" >Tn</text>
<text id="tp" class="s" x="1122.6" y="297.6" font-size="16" textLength="20.4" lengthAdjust="spacingAndGlyphs" >Tp</text>
</g>
</svg>
</body></html>
